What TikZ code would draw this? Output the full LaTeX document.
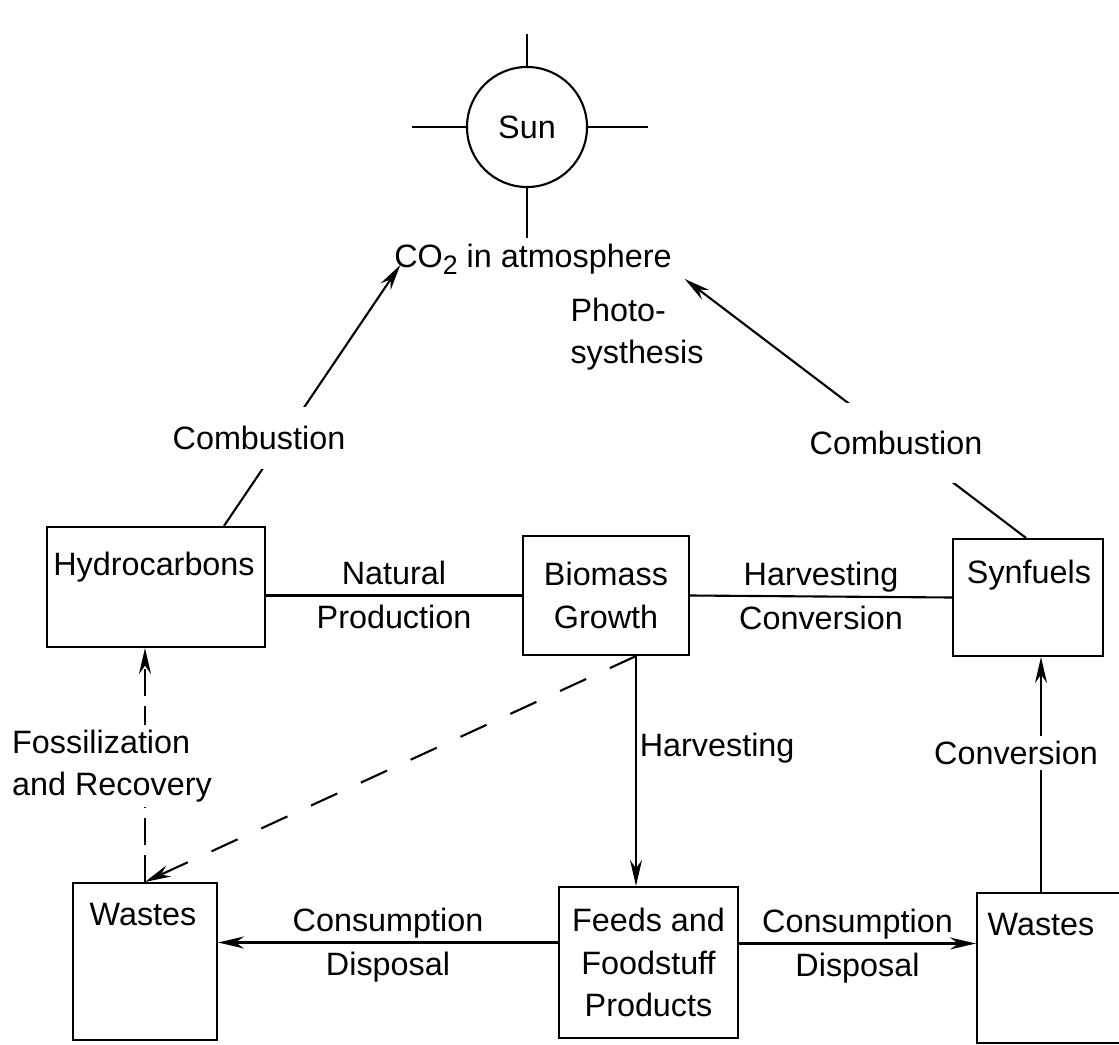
\documentclass[tikz,border=0pt]{standalone}
\usepackage{fontspec}
\setmainfont{Liberation Sans}
\usetikzlibrary{calc,arrows.meta}

\begin{document}
\begin{tikzpicture}[x=0.025cm,y=-0.025cm,line width=1.5pt,
  font=\fontsize{23}{30}\selectfont,
  >={Stealth[length=6.5mm,width=3mm]},
  box/.style={draw,rectangle,inner sep=0pt},
  gap/.style={fill=white},
  up/.style={above=4pt,text depth=0pt},
  down/.style={below=3pt}]

\useasboundingbox (0,0) rectangle (1119,1045);

% Sun
\node[draw,circle,minimum size=3cm] (sun) at (527,127) {Sun};
\draw (sun.north) -- ++(0,-32);
\draw (sun.west) -- ++(-54,0);
\draw (sun.east) -- ++(60,0);
\draw (sun.south) -- ++(0,50);

\node[inner sep=0pt,anchor=base] (co2) at (533,267)
{CO\raisebox{-0.45ex}{\fontsize{19}{19}\selectfont 2} in atmosphere};

\node[align=left] (ps) at (637,334) {Photo-\\systhesis};

% Boxes
\node[box,minimum width=5.45cm,minimum height=3cm] (hc) at (156,587) {};
\node (hct) at (154,567) {Hydrocarbons};

\node[box,minimum width=4.15cm,minimum height=2.975cm,align=center] (bm) at (606,595.5)
{Biomass\\Growth};

\node[box,minimum width=3.75cm,minimum height=2.925cm] (sf) at (1028,597.5) {};
\node (sft) at (1029,575) {Synfuels};

\node[box,minimum width=4.475cm,minimum height=3.775cm,align=center] (fp) at (648.5,962.5)
{Feeds and\\Foodstuff\\Products};

\node[box,minimum width=3.6cm,minimum height=3.925cm] (wl) at (145,961.5) {};
\node (wlt) at (143,915) {Wastes};

\node[box,minimum width=4.1cm,minimum height=3.75cm] (wr) at (1059,968) {};
\node (wrt) at (1041,925) {Wastes};

% Middle row
\draw (bm.west) -- (bm.west -| hc.east)
  node[midway,up]{Natural} node[midway,down]{Production};
\draw (bm.east) -- (sf.west)
  node[midway,up]{Harvesting} node[midway,down]{Conversion};

% Combustion
\draw[->] ($(hc.north)+(68,0)$) -- ($(co2.base west)+(7,-2)$);
\node[gap,minimum height=1.55cm] (cb1) at (259,438) {Combustion};
\draw[->] ($(sf.north)+(-2,0)$) -- ($(co2.base east)+(12,12)$);
\node[gap,minimum height=2cm] (cb2) at (896,443) {Combustion};

% Harvesting
\coordinate (bmout) at ($(bm.south)+(30,0)$);
\draw[->] (bmout) -- (bmout |- fp.north)
  node[pos=0.4,right,inner sep=2pt]{Harvesting};
\draw[->,dash pattern=on 0.72cm off 0.65cm] (bmout) -- (wl.north);

% Fossilization
\draw[->,dash pattern=on 0.68cm off 0.25cm] (wl.north) -- (wl.north |- hc.south);
\node[gap,align=left] (fr) at (112,766) {Fossilization\\and Recovery};

% Consumption
\coordinate (fpw) at ($(fp.west)+(0,-20)$);
\draw[->] (fpw) -- (fpw -| wl.east)
  node[midway,up]{Consumption} node[midway,down]{Disposal};
\coordinate (fpe) at ($(fp.east)+(0,-19)$);
\draw[->] (fpe) -- (fpe -| wr.west)
  node[midway,up]{Consumption} node[midway,down]{Disposal};

% Conversion
\coordinate (wrout) at ($(wr.north)+(-18,0)$);
\draw[->] (wrout) -- (wrout |- sf.south);
\node[gap] (cv) at (1016,753) {Conversion};

\end{tikzpicture}
\end{document}
